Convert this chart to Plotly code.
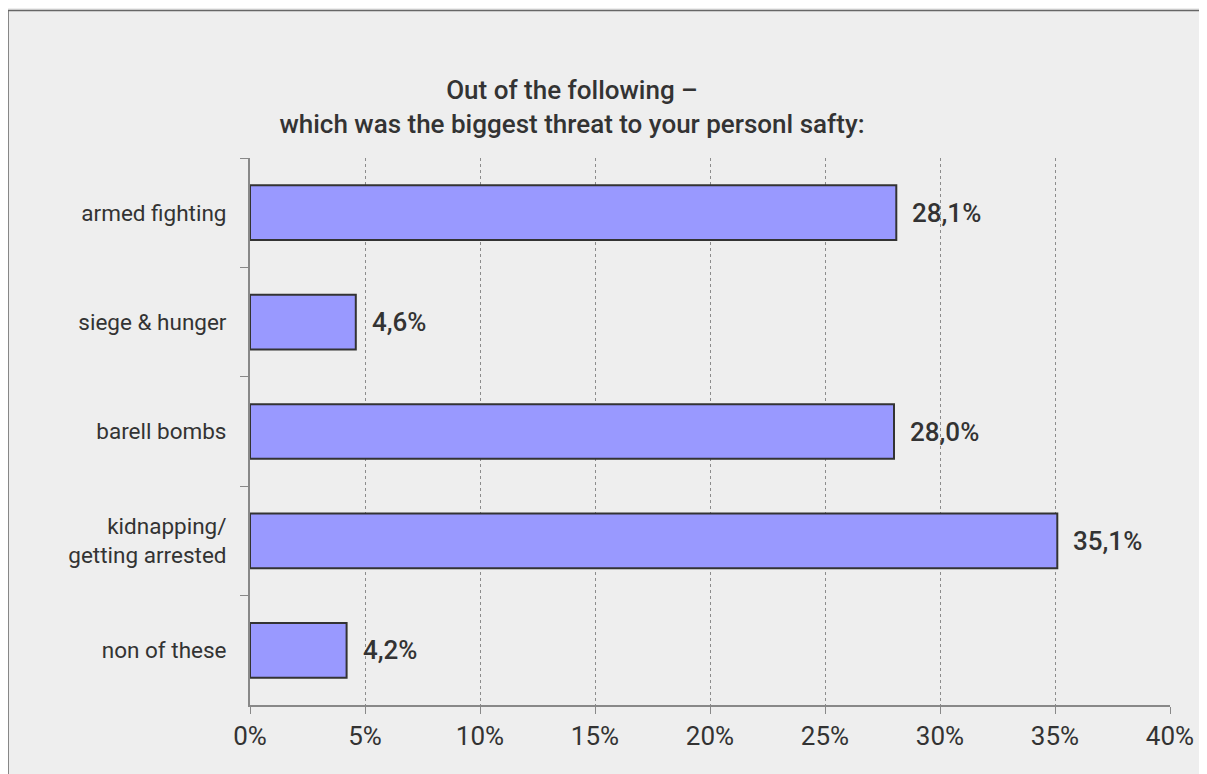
import plotly.graph_objects as go

categories = ["armed fighting", "siege & hunger", "barell bombs",
              "kidnapping/<br>getting arrested", "non of these"]
values = [28.1, 4.6, 28.0, 35.1, 4.2]
labels = ["28,1%", "4,6%", "28,0%", "35,1%", "4,2%"]
x_ticks = [0, 5, 10, 15, 20, 25, 30, 35, 40]
x_tick_labels = ["0%", "5%", "10%", "15%", "20%", "25%", "30%", "35%", "40%"]
title_text = "Out of the following –<br>which was the biggest threat to your personl safty:"

# page has an 8px body margin, so figure coordinates = page - 8
OFF = 8
W, H = 1207 - OFF, 774 - OFF
L, R, T, B = 250 - OFF, 1170 - OFF, 158 - OFF, 705 - OFF

fig = go.Figure()
fig.add_trace(go.Bar(
    x=values, y=categories, orientation="h",
    marker=dict(color="#9999ff", line=dict(color="#333333", width=2)),
    hoverinfo="skip", showlegend=False,
))

for v, c, t in zip(values, categories, labels):
    fig.add_annotation(x=v, y=c, text=t, showarrow=False, xanchor="left",
                       xshift=14, font=dict(family="Roboto", size=26,
                                            color="#333333", weight=500))

# outer frame (top & left edges visible)
fig.add_shape(type="rect", xref="paper", yref="paper",
              x0=(0.0 - L) / (R - L), x1=1.3,
              y0=-0.4, y1=(B - 2.5) / (B - T),
              line=dict(color="#666666", width=1.5), layer="below")

fig.update_layout(
    width=W, height=H,
    margin=dict(l=L, r=W - R, t=T, b=H - B, pad=0),
    paper_bgcolor="#eeeeee", plot_bgcolor="#eeeeee",
    bargap=0.5,
    title=dict(text=title_text, x=(572 - OFF) / W, xanchor="center",
               y=1 - (99 - OFF) / H, yanchor="middle",
               font=dict(family="Roboto", size=26, color="#333333", weight=500)),
    font=dict(family="Roboto", color="#333333"),
    xaxis=dict(range=[0, 40], tickvals=x_ticks, ticktext=x_tick_labels,
               showgrid=True, gridcolor="#8c8c8c", griddash="dot", gridwidth=1,
               showline=True, linecolor="#888888", linewidth=2,
               ticks="outside", ticklen=7, tickcolor="#888888", tickwidth=1,
               tickfont=dict(family="Roboto", size=26, color="#333333"),
               zeroline=False, fixedrange=True),
    yaxis=dict(categoryorder="array", categoryarray=categories,
               autorange="reversed", tickson="boundaries",
               showgrid=False, showline=True, linecolor="#888888", linewidth=2,
               ticks="outside", ticklen=8, tickcolor="#888888", tickwidth=1,
               tickfont=dict(family="Roboto", size=22.5, color="#333333"),
               ticklabelstandoff=17, fixedrange=True),
)

fig.write_html("out.html")
